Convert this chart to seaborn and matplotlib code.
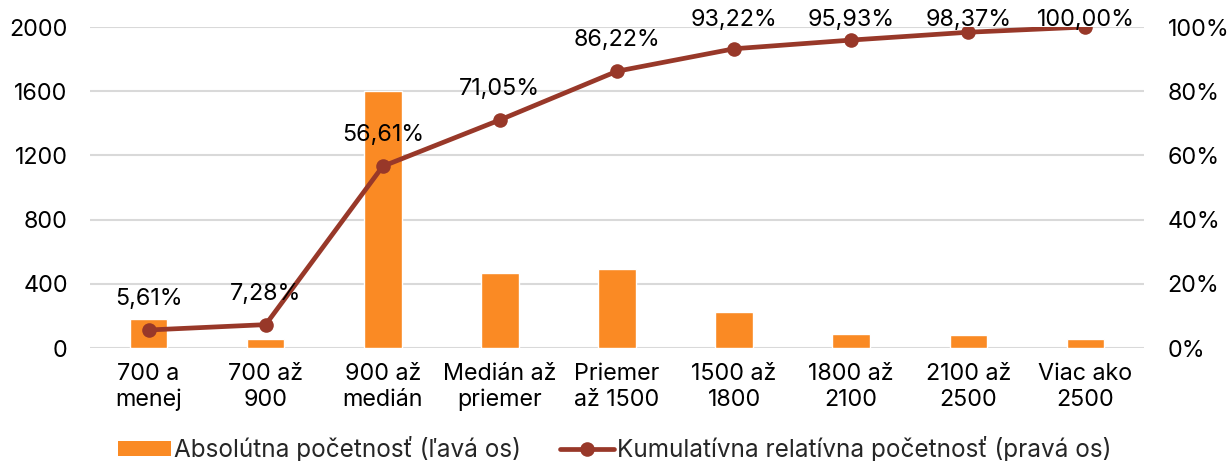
import numpy as np
import pandas as pd
import matplotlib
matplotlib.use("Agg")
import matplotlib.pyplot as plt
import seaborn as sns
from matplotlib.lines import Line2D
from matplotlib.patches import Patch

categories = ["700 a\nmenej", "700 až\n900", "900 až\nmedián", "Medián až\npriemer",
              "Priemer\naž 1500", "1500 až\n1800", "1800 až\n2100", "2100 až\n2500", "Viac ako\n2500"]
absolute = [182, 54, 1600, 468, 492, 227, 88, 79, 53]
cumulative = [5.61, 7.28, 56.61, 71.05, 86.22, 93.22, 95.93, 98.37, 100.00]
left_ticks = [0, 400, 800, 1200, 1600, 2000]
right_ticks = [0, 20, 40, 60, 80, 100]

sns.set_theme(style="white")
plt.rcParams['font.family'] = ['Inter', 'DejaVu Sans']

BAR = "#FA8A24"
LINE = "#983829"
GRID = "#D9D9D9"
FS = 16.8

fig = plt.figure(figsize=(12.29, 4.61), dpi=100)
ax = fig.add_axes([90/1229, 1-348/461, (1144-90)/1229, (348-27)/461])

df = pd.DataFrame({"cat": categories, "abs": absolute})
sns.barplot(data=df, x="cat", y="abs", color=BAR, saturation=1, width=0.32, ax=ax)
ax.set_ylim(0, 2000)
ax.set_yticks(left_ticks)
ax.set_xlabel("")
ax.set_ylabel("")
ax.grid(axis="y", color=GRID, linewidth=1.5)
ax.set_axisbelow(True)
for s in ax.spines.values():
    s.set_visible(False)
ax.tick_params(axis="both", length=0, labelsize=FS, colors="black")
ax.tick_params(axis="y", pad=16)
ax.tick_params(axis="x", pad=11)
ax.set_xlim(-0.5, len(categories) - 0.5)

ax2 = ax.twinx()
x = np.arange(len(categories))
sns.lineplot(x=x, y=cumulative, ax=ax2, color=LINE, linewidth=3.4, marker="o",
             markersize=10.5, markeredgewidth=0, legend=False)
ax2.set_ylim(0, 100)
ax2.set_yticks(right_ticks)
ax2.set_yticklabels([f"{t}%" for t in right_ticks])
for s in ax2.spines.values():
    s.set_visible(False)
ax2.tick_params(axis="y", length=0, labelsize=FS, colors="black", pad=17)
ax2.grid(False)
ax2.set_xlim(-0.5, len(categories) - 0.5)

fig.canvas.draw()
top_px = ax2.transAxes.transform((0, 1))[1]
for xi, v in zip(x, cumulative):
    px = ax2.transData.transform((xi, v))
    ly = min(px[1] + 31, top_px + 7)
    lx, lyd = ax2.transData.inverted().transform((px[0], ly))
    ax2.text(lx, lyd, f"{v:.2f}%".replace(".", ","), ha="center", va="center",
             fontsize=FS, color="black", clip_on=False)

handles = [Patch(facecolor=BAR, edgecolor="none"),
           Line2D([0], [0], color=LINE, linewidth=3.4, marker="o", markersize=10.5, markeredgewidth=0)]
labels = ["Absolútna početnosť (ľavá os)", "Kumulatívna relatívna početnosť (pravá os)"]
fig.legend(handles, labels, loc="center", bbox_to_anchor=(0.5, 1-449/461), ncol=2,
           frameon=False, fontsize=17.5, handlelength=2.2, handleheight=0.6, handletextpad=0.12,
           columnspacing=1.6, borderaxespad=0, borderpad=0)

fig.savefig("out.png", dpi=100)
